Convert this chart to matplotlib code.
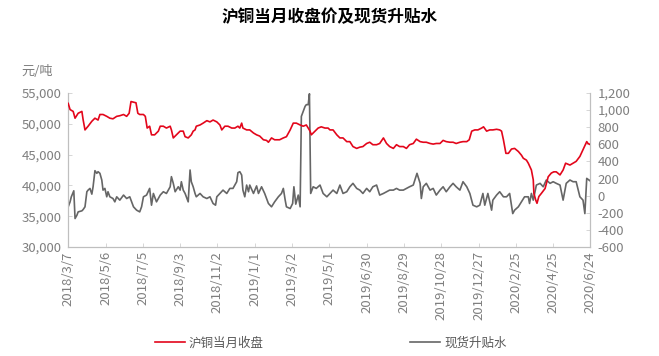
import matplotlib
matplotlib.use("Agg")
import matplotlib.pyplot as plt
from matplotlib.ticker import FuncFormatter, MultipleLocator
import pandas as pd

plt.rcParams['font.family'] = ['Noto Sans CJK SC', 'DejaVu Sans']

title = "沪铜当月收盘价及现货升贴水"
unit_label = "元/吨"
price_name = "沪铜当月收盘"
basis_name = "现货升贴水"

price_dates = [
    "2018-03-07", "2018-03-10", "2018-03-15", "2018-03-18", "2018-03-23", "2018-03-29", "2018-03-31",
    "2018-04-03", "2018-04-08", "2018-04-14", "2018-04-19", "2018-04-24", "2018-04-27", "2018-05-02",
    "2018-05-08", "2018-05-13", "2018-05-18", "2018-05-24", "2018-05-29", "2018-06-04", "2018-06-09",
    "2018-06-13", "2018-06-16", "2018-06-20", "2018-06-24", "2018-06-27", "2018-06-30", "2018-07-06",
    "2018-07-09", "2018-07-12", "2018-07-16", "2018-07-19", "2018-07-24", "2018-07-30", "2018-08-02",
    "2018-08-07", "2018-08-12", "2018-08-18", "2018-08-20", "2018-08-23", "2018-08-28", "2018-09-03",
    "2018-09-08", "2018-09-11", "2018-09-16", "2018-09-21", "2018-09-24", "2018-09-27", "2018-09-29",
    "2018-10-05", "2018-10-10", "2018-10-16", "2018-10-21", "2018-10-26", "2018-11-01", "2018-11-06",
    "2018-11-09", "2018-11-14", "2018-11-19", "2018-11-25", "2018-11-30", "2018-12-05", "2018-12-08",
    "2018-12-11", "2018-12-13", "2018-12-19", "2018-12-24", "2018-12-30", "2019-01-04", "2019-01-09",
    "2019-01-12", "2019-01-15", "2019-01-20", "2019-01-23", "2019-01-28", "2019-02-02", "2019-02-10",
    "2019-02-16", "2019-02-21", "2019-02-27", "2019-03-04", "2019-03-09", "2019-03-15", "2019-03-20",
    "2019-03-25", "2019-03-31", "2019-04-02", "2019-04-08", "2019-04-13", "2019-04-18", "2019-04-24",
    "2019-04-29", "2019-05-02", "2019-05-07", "2019-05-13", "2019-05-18", "2019-05-23", "2019-05-29",
    "2019-06-03", "2019-06-08", "2019-06-14", "2019-06-19", "2019-06-24", "2019-06-30", "2019-07-05",
    "2019-07-10", "2019-07-16", "2019-07-21", "2019-07-27", "2019-08-01", "2019-08-06", "2019-08-12",
    "2019-08-17", "2019-08-22", "2019-08-28", "2019-09-02", "2019-09-07", "2019-09-13", "2019-09-18",
    "2019-09-24", "2019-09-29", "2019-10-04", "2019-10-10", "2019-10-15", "2019-10-20", "2019-10-26",
    "2019-10-31", "2019-11-05", "2019-11-11", "2019-11-16", "2019-11-21", "2019-11-27", "2019-12-02",
    "2019-12-08", "2019-12-12", "2019-12-16", "2019-12-21", "2019-12-26", "2020-01-01", "2020-01-04",
    "2020-01-09", "2020-01-14", "2020-01-19", "2020-01-25", "2020-01-30", "2020-02-02", "2020-02-05",
    "2020-02-09", "2020-02-13", "2020-02-18", "2020-02-23", "2020-02-29", "2020-03-05", "2020-03-08",
    "2020-03-13", "2020-03-16", "2020-03-21", "2020-03-24", "2020-03-25", "2020-03-28", "2020-03-30",
    "2020-04-02", "2020-04-06", "2020-04-12", "2020-04-17", "2020-04-22", "2020-04-26", "2020-04-30",
    "2020-05-06", "2020-05-11", "2020-05-15", "2020-05-22", "2020-05-27", "2020-06-01", "2020-06-07",
    "2020-06-12", "2020-06-18", "2020-06-20", "2020-06-24",
]
price_values = [
    53300, 52300, 52000, 50900, 51700, 52000, 50650,
    49000, 49600, 50400, 50900, 50600, 51500, 51500,
    51200, 50900, 50800, 51200, 51300, 51500, 51200,
    51700, 53600, 53500, 53400, 51700, 51500, 51500,
    51200, 49300, 49600, 48200, 48200, 48800, 49600,
    49600, 49300, 49600, 49000, 47700, 48200, 48800,
    48800, 47900, 47700, 48200, 48800, 49000, 49600,
    49800, 50100, 50500, 50300, 50600, 50300, 49800,
    49000, 49600, 49600, 49300, 49300, 49600, 49300,
    50100, 49300, 49000, 49000, 48500, 48200, 48000,
    47700, 47400, 47300, 47000, 47700, 47400, 47400,
    47700, 47900, 49000, 50100, 50100, 49800, 49600,
    49800, 48800, 48200, 48800, 49300, 49500, 49300,
    49300, 49000, 49000, 48200, 47700, 47700, 47100,
    47100, 46300, 46000, 46200, 46300, 46800, 47000,
    46600, 46600, 46800, 47700, 46800, 46300, 46000,
    46600, 46300, 46300, 46000, 46600, 46800, 47500,
    47100, 47000, 47000, 46800, 46700, 46800, 46800,
    47300, 47100, 47000, 47000, 46800, 47000, 47100,
    47100, 47400, 48800, 49000, 49000, 49300, 49500,
    48800, 49000, 49000, 49100, 49000, 48800, 47400,
    45200, 45200, 45900, 46000, 45500, 44900, 44400,
    44100, 43600, 42500, 40900, 38700, 37600, 37100,
    38200, 38700, 39500, 41400, 42000, 42200, 42200,
    41700, 42500, 43600, 43300, 43600, 43900, 44700,
    45800, 47100, 46800, 46600,
]

basis_dates = [
    "2018-03-07", "2018-03-10", "2018-03-12", "2018-03-16", "2018-03-18", "2018-03-21", "2018-03-23",
    "2018-03-29", "2018-03-31", "2018-04-03", "2018-04-06", "2018-04-08", "2018-04-11", "2018-04-14",
    "2018-04-16", "2018-04-19", "2018-04-22", "2018-04-24", "2018-04-27", "2018-04-30", "2018-05-02",
    "2018-05-05", "2018-05-08", "2018-05-10", "2018-05-13", "2018-05-18", "2018-05-21", "2018-05-24",
    "2018-05-29", "2018-06-04", "2018-06-09", "2018-06-14", "2018-06-20", "2018-06-25", "2018-06-30",
    "2018-07-03", "2018-07-06", "2018-07-11", "2018-07-16", "2018-07-19", "2018-07-22", "2018-07-27",
    "2018-08-02", "2018-08-07", "2018-08-12", "2018-08-18", "2018-08-20", "2018-08-23", "2018-08-26",
    "2018-08-31", "2018-09-03", "2018-09-05", "2018-09-08", "2018-09-11", "2018-09-16", "2018-09-19",
    "2018-09-21", "2018-09-24", "2018-09-27", "2018-09-29", "2018-10-05", "2018-10-10", "2018-10-16",
    "2018-10-21", "2018-10-26", "2018-10-30", "2018-11-01", "2018-11-06", "2018-11-11", "2018-11-17",
    "2018-11-22", "2018-11-27", "2018-12-03", "2018-12-05", "2018-12-08", "2018-12-11", "2018-12-13",
    "2018-12-16", "2018-12-19", "2018-12-22", "2018-12-24", "2018-12-30", "2019-01-04", "2019-01-07",
    "2019-01-12", "2019-01-17", "2019-01-20", "2019-01-23", "2019-01-28", "2019-02-02", "2019-02-08",
    "2019-02-13", "2019-02-16", "2019-02-19", "2019-02-21", "2019-02-27", "2019-03-03", "2019-03-05",
    "2019-03-08", "2019-03-12", "2019-03-15", "2019-03-17", "2019-03-20", "2019-03-23", "2019-03-25",
    "2019-03-28", "2019-03-30", "2019-04-01", "2019-04-05", "2019-04-10", "2019-04-16", "2019-04-21",
    "2019-04-27", "2019-05-01", "2019-05-07", "2019-05-13", "2019-05-18", "2019-05-23", "2019-05-29",
    "2019-06-03", "2019-06-08", "2019-06-14", "2019-06-19", "2019-06-24", "2019-06-30", "2019-07-05",
    "2019-07-10", "2019-07-16", "2019-07-21", "2019-07-27", "2019-08-01", "2019-08-06", "2019-08-12",
    "2019-08-17", "2019-08-22", "2019-08-28", "2019-09-02", "2019-09-07", "2019-09-13", "2019-09-19",
    "2019-09-24", "2019-09-26", "2019-09-29", "2019-10-04", "2019-10-10", "2019-10-15", "2019-10-20",
    "2019-10-26", "2019-10-31", "2019-11-05", "2019-11-11", "2019-11-16", "2019-11-21", "2019-11-27",
    "2019-12-02", "2019-12-08", "2019-12-13", "2019-12-18", "2019-12-24", "2019-12-29", "2020-01-03",
    "2020-01-06", "2020-01-11", "2020-01-17", "2020-01-19", "2020-01-25", "2020-01-30", "2020-02-05",
    "2020-02-10", "2020-02-15", "2020-02-20", "2020-02-23", "2020-02-29", "2020-03-05", "2020-03-10",
    "2020-03-16", "2020-03-18", "2020-03-21", "2020-03-24", "2020-03-29", "2020-04-04", "2020-04-09",
    "2020-04-14", "2020-04-20", "2020-04-25", "2020-04-30", "2020-05-06", "2020-05-11", "2020-05-16",
    "2020-05-22", "2020-05-27", "2020-06-01", "2020-06-07", "2020-06-12", "2020-06-15", "2020-06-18",
    "2020-06-23",
]
basis_values = [
    -130, -72, -13, 57, -267, -228, -189,
    -177, -162, -130, 46, 65, 85, 18,
    104, 292, 261, 280, 261, 183, 65,
    85, -13, 46, -13, -33, -72, -13,
    -52, 7, -33, -13, -130, -169, -189,
    -130, -13, 7, 85, -111, 26, -72,
    7, 46, 26, 104, 222, 144, 46,
    104, 65, 163, 65, 26, -72, 300,
    163, 104, 26, -13, 26, -13, -33,
    -13, -91, -111, -13, 26, 65, 26,
    85, 85, 163, 269, 280, 241, 65,
    -13, 124, 46, 124, 26, 114, 26,
    104, 26, -33, -91, -130, -72, -13,
    26, 85, -52, -130, -150, -91, 104,
    -99, 7, -130, 926, 985, 1043, 1063,
    1063, 1190, 26, 104, 85, 124, 26,
    -13, 18, 65, 26, 124, 26, 46,
    104, 144, 85, 65, 26, 85, 46,
    104, 124, 7, 26, 46, 65, 65,
    85, 65, 65, 85, 104, 124, 261,
    144, -33, 104, 144, 65, 85, 7,
    65, 104, 46, 104, 144, 104, 65,
    163, 104, 26, -111, -130, -111, 26,
    -111, 26, -169, -52, 7, 46, -13,
    -13, 26, -209, -169, -130, -72, -13,
    -13, -91, 26, -52, 124, 144, 104,
    183, 144, 163, 144, 124, -52, 144,
    183, 163, 163, -13, -52, -209, 202,
    175,
]

x_start = "2018-03-07"
x_end = "2020-06-24"
tick_step_days = 60

red = "#E3061B"
gray_line = "#666666"
text_gray = "#7F7F7F"
spine_gray = "#BFBFBF"

fig = plt.figure(figsize=(6.59, 3.56), dpi=100)
ax = fig.add_axes([0.1035, 0.306, 0.7925, 0.433])
ax2 = ax.twinx()

pd_price = pd.to_datetime(price_dates)
pd_basis = pd.to_datetime(basis_dates)

l1, = ax.plot(pd_price, price_values, color=red, lw=1.2, label=price_name, zorder=3)
l2, = ax2.plot(pd_basis, basis_values, color=gray_line, lw=1.2, label=basis_name, zorder=2)
ax.set_zorder(ax2.get_zorder() + 1)
ax.patch.set_visible(False)

ax.set_ylim(30000, 55000)
ax.yaxis.set_major_locator(MultipleLocator(5000))
ax.yaxis.set_major_formatter(FuncFormatter(lambda v, p: f"{int(v):,}"))
ax2.set_ylim(-600, 1200)
ax2.yaxis.set_major_locator(MultipleLocator(200))
ax2.yaxis.set_major_formatter(FuncFormatter(lambda v, p: f"{int(v):,}"))

t0 = pd.Timestamp(x_start)
t1 = pd.Timestamp(x_end)
ax.set_xlim(t0, t1)
ticks = pd.date_range(t0, t1, freq=f"{tick_step_days}D")
ax.set_xticks(ticks)
ax.set_xticklabels([f"{t.year}/{t.month}/{t.day}" for t in ticks], rotation=90)

for a in (ax, ax2):
    for s in a.spines.values():
        s.set_color(spine_gray)
        s.set_linewidth(0.8)
    a.spines['top'].set_visible(False)
    a.tick_params(colors=text_gray, labelsize=9.5, length=3, width=0.6, direction='in')
    a.tick_params(axis='both', color="#D0D0D0")
ax.tick_params(axis='y', pad=5)
ax2.tick_params(axis='y', pad=5)
ax.tick_params(axis='x', pad=3)

fig.text(0.5, 0.953, title, ha='center', va='center', fontsize=12, fontweight='bold', color='black')
fig.text(0.033, 0.80, unit_label, ha='left', va='center', fontsize=9.5, color=text_gray)

fig.legend(handles=[l1, l2], labels=[price_name, basis_name], loc='center', ncol=2,
           bbox_to_anchor=(0.502, 0.037), frameon=False, fontsize=9, labelcolor="#595959",
           handlelength=2.4, handletextpad=0.3, columnspacing=11.7)

fig.savefig("out.png", dpi=100)
